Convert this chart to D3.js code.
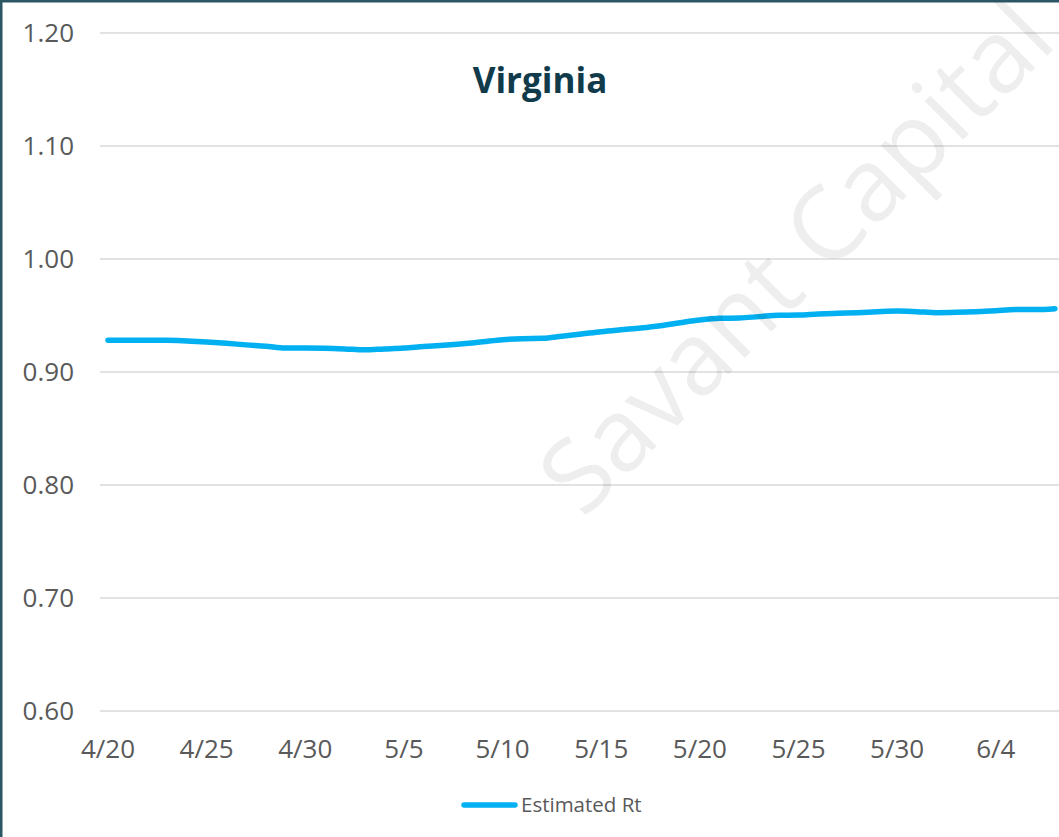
<!DOCTYPE html>
<html>
<head>
<meta charset="utf-8">
<script src="https://cdn.jsdelivr.net/npm/d3@7"></script>
<style>
  html, body { margin: 0; padding: 0; background: #fff; }
  #chart { width: 1059px; height: 837px; overflow: hidden; }
</style>
</head>
<body>
<div id="chart"></div>
<script>
// ---- data ----
const dates = [
  "4/20","4/21","4/22","4/23","4/24","4/25","4/26","4/27","4/28","4/29","4/30",
  "5/1","5/2","5/3","5/4","5/5","5/6","5/7","5/8","5/9","5/10",
  "5/11","5/12","5/13","5/14","5/15","5/16","5/17","5/18","5/19","5/20",
  "5/21","5/22","5/23","5/24","5/25","5/26","5/27","5/28","5/29","5/30","5/31",
  "6/1","6/2","6/3","6/4","6/5","6/6","6/7"
];
const rtValues = [
  0.928, 0.928, 0.928, 0.928, 0.9274, 0.9265, 0.9254, 0.9240, 0.9228, 0.9212, 0.9212,
  0.9210, 0.9204, 0.9196, 0.9204, 0.9212, 0.9225, 0.9236, 0.9250, 0.9268, 0.9286,
  0.9295, 0.9298, 0.9316, 0.9336, 0.9357, 0.9374, 0.9390, 0.9410, 0.9436, 0.9460,
  0.9475, 0.9478, 0.9490, 0.9502, 0.9504, 0.9513, 0.9519, 0.9525, 0.9534, 0.9540, 0.9534,
  0.9525, 0.9528, 0.9534, 0.9543, 0.9552, 0.9552, 0.9560
];
const xTickLabels = ["4/20","4/25","4/30","5/5","5/10","5/15","5/20","5/25","5/30","6/4"];
const yTicks = [0.6, 0.7, 0.8, 0.9, 1.0, 1.1, 1.2];
const title = "Virginia";
const seriesName = "Estimated Rt";
const watermark = "Savant Capital";

// ---- chart ----
const width = 1059, height = 837;
const svg = d3.select("#chart").append("svg")
  .attr("width", width)
  .attr("height", height)
  .style("font-family", "'Open Sans', sans-serif");

svg.append("rect")
  .attr("width", width).attr("height", height)
  .attr("fill", "#fff");

const x = d3.scalePoint()
  .domain(dates)
  .range([108, 1055]);

const y = d3.scaleLinear()
  .domain([0.6, 1.2])
  .range([711, 33]);

// gridlines
svg.append("g")
  .selectAll("line")
  .data(yTicks)
  .join("line")
    .attr("x1", 100)
    .attr("x2", width)
    .attr("y1", d => y(d))
    .attr("y2", d => y(d))
    .attr("stroke", "#d9d9d9")
    .attr("stroke-width", 1.3);

// y labels
svg.append("g")
  .selectAll("text")
  .data(yTicks)
  .join("text")
    .attr("x", 74)
    .attr("y", d => y(d))
    .attr("dy", "0.35em")
    .attr("text-anchor", "end")
    .attr("fill", "#595959")
    .style("font-size", "26px")
    .text(d3.format(".2f"));

// x labels
svg.append("g")
  .selectAll("text")
  .data(xTickLabels)
  .join("text")
    .attr("x", d => x(d))
    .attr("y", 758)
    .attr("text-anchor", "middle")
    .attr("fill", "#595959")
    .style("font-size", "26px")
    .text(d => d);

// series line
const line = d3.line()
  .x((d, i) => x(dates[i]))
  .y(d => y(d))
  .curve(d3.curveMonotoneX);

svg.append("path")
  .datum(rtValues)
  .attr("d", line)
  .attr("fill", "none")
  .attr("stroke", "#00b0f0")
  .attr("stroke-width", 5.5)
  .attr("stroke-linecap", "round")
  .attr("stroke-linejoin", "round");

// title
svg.append("text")
  .attr("x", 540)
  .attr("y", 93)
  .attr("text-anchor", "middle")
  .attr("fill", "#113b4b")
  .style("font-size", "35px")
  .style("font-weight", "bold")
  .text(title);

// legend
const legend = svg.append("g");
legend.append("line")
  .attr("x1", 464).attr("x2", 515)
  .attr("y1", 805).attr("y2", 805)
  .attr("stroke", "#00b0f0")
  .attr("stroke-width", 5.5)
  .attr("stroke-linecap", "round");
legend.append("text")
  .attr("x", 521)
  .attr("y", 805)
  .attr("dy", "0.35em")
  .attr("fill", "#595959")
  .style("font-size", "20.5px")
  .text(seriesName);

// watermark (runs off the top-right corner, as in the source)
svg.append("text")
  .attr("transform", "translate(583,520) rotate(-45)")
  .attr("fill", "#000")
  .attr("fill-opacity", 0.065)
  .style("font-size", "102px")
  .text(watermark);

// frame
svg.append("rect")
  .attr("x", 1.25).attr("y", 1.25)
  .attr("width", width + 40).attr("height", height + 40)
  .attr("fill", "none")
  .attr("stroke", "#2c5663")
  .attr("stroke-width", 2.5);
</script>
</body>
</html>
